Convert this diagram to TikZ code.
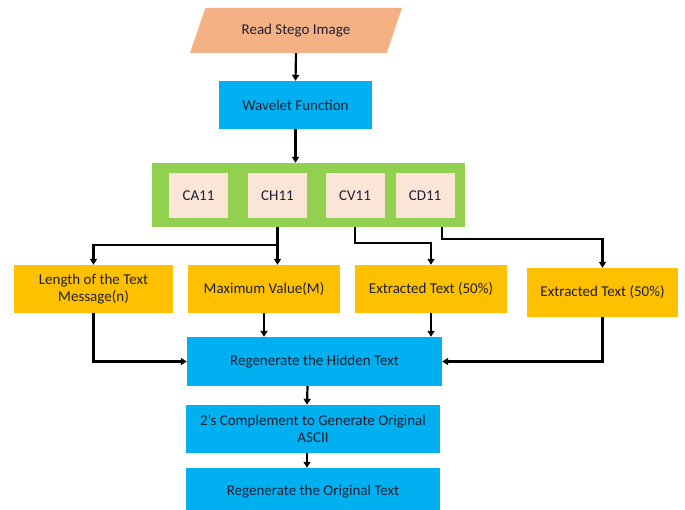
\documentclass[tikz,border=0pt]{standalone}
\usepackage{fontspec}
\setmainfont{Carlito}
\usetikzlibrary{shapes.geometric,arrows.meta}

\definecolor{skyblue}{HTML}{00B0F0}
\definecolor{peach}{HTML}{F4B183}
\definecolor{leafgreen}{HTML}{92D050}
\definecolor{paleband}{HTML}{FBE5D6}
\definecolor{amber}{HTML}{FFC000}
\definecolor{inkdark}{HTML}{1E2036}

\begin{document}
\begin{tikzpicture}[x=1pt, y=-1pt,
    every node/.style = {font=\fontsize{15}{16.5}\selectfont, text=inkdark, align=center, inner sep=2pt},
    stepbox/.style    = {fill=skyblue, minimum width=255pt, minimum height=48pt},
    outbox/.style     = {fill=amber, minimum width=152pt, minimum height=48pt},
    bandbox/.style    = {fill=paleband, minimum width=59pt, minimum height=45pt},
    arr/.style        = {line width=2.2pt, -{Triangle[length=6pt,width=7pt]}}]
  \useasboundingbox (0,0) rectangle (685,510);

  \node [trapezium, trapezium left angle=48, trapezium right angle=132,
         trapezium stretches body, fill=peach, minimum width=212pt, minimum height=45pt]
        (read) at (296,30.5) {Read Stego Image};
  \node [fill=skyblue, minimum width=153pt, minimum height=48pt] (wave) at (295.5,105) {Wavelet Function};

  % sub-bands
  \node [fill=leafgreen, minimum width=313pt, minimum height=64pt] (bands) at (308.5,195) {};
  \node [bandbox] (ca) at (198.5,195.5) {CA11};
  \node [bandbox] (ch) at (277.5,195.5) {CH11};
  \node [bandbox] (cv) at (355,195.5)   {CV11};
  \node [bandbox] (cd) at (425,195.5)   {CD11};

  \node [outbox, minimum width=159pt] (len) at (93.5,289) {Length of the Text\\Message(n)};
  \node [outbox] (maxv) at (264,289)   {Maximum Value(M)};
  \node [outbox] (ext1) at (431,289)   {Extracted Text (50\%)};
  \node [outbox, minimum width=151pt, minimum height=49pt] (ext2) at (602.5,292.5) {Extracted Text (50\%)};

  \node [stepbox, minimum height=49pt] (hidden) at (314.5,361.5) {Regenerate the Hidden Text};
  \node [stepbox, minimum width=254pt] (comp) at (313,429) {2’s Complement to Generate Original\\ASCII};
  \node [stepbox, minimum width=254pt] (orig) at (313,492) {Regenerate the Original Text};

  \draw [arr] (read.south) -- (wave.north);
  \draw [arr] (wave.south) -- (wave.south |- bands.north);

  \draw [arr] (ch.south |- bands.south) -- ++(0,18) -| (len.north);
  \draw [arr] (ch.south |- bands.south) -- (ch.south |- maxv.north);
  \draw [arr] (cv.south |- bands.south) -- ++(0,16) -| (ext1.north);
  \draw [arr] (cd.south) ++(17,9) -- ++(0,12) -| (ext2.north);

  \draw [arr] (len.south) |- (hidden.west);
  \draw [arr] (maxv.south) -- (maxv.south |- hidden.north);
  \draw [arr] (ext1.south) -- (ext1.south |- hidden.north);
  \draw [arr] (ext2.south) |- (hidden.east);

  \draw [arr] ([xshift=-7pt]hidden.south) -- ([xshift=-6pt]comp.north);
  \draw [arr] ([xshift=-6pt]comp.south) -- ([xshift=-6pt]orig.north);
\end{tikzpicture}
\end{document}
